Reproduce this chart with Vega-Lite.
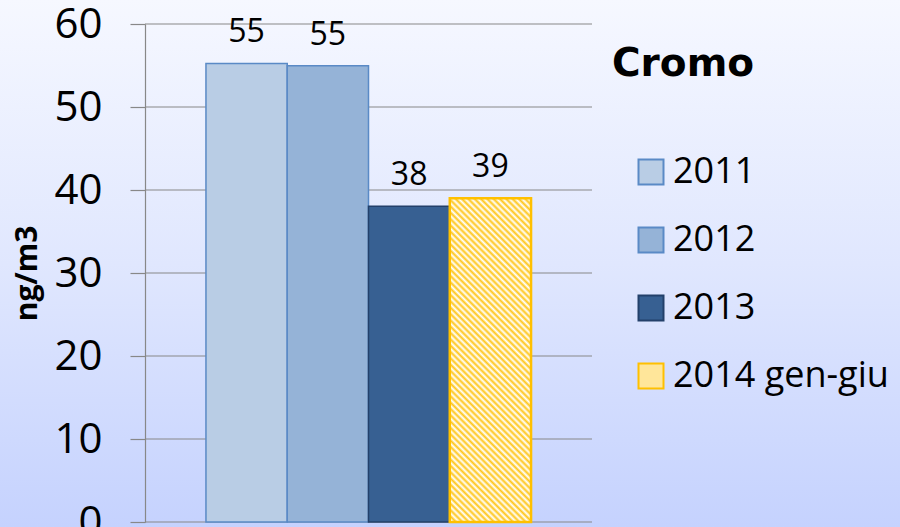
{
  "$schema": "https://vega.github.io/schema/vega-lite/v6.json",
  "width": 447,
  "height": 498,
  "autosize": "none",
  "padding": {"left": 145, "top": 24, "right": 308, "bottom": 5},
  "background": "#DDE5FD",
  "config": {"view": {"stroke": null}, "font": "Open Sans"},
  "resolve": {"scale": {"x": "independent"}},
  "layer": [
    {
      "data": {"values": [{"part": "background"}]},
      "mark": {
        "type": "rect",
        "clip": false,
        "strokeWidth": 0,
        "fill": {
          "gradient": "linear", "x1": 0, "y1": 0, "x2": 0, "y2": 1,
          "stops": [
            {"offset": 0, "color": "#F6F8FF"},
            {"offset": 0.5, "color": "#E0E7FE"},
            {"offset": 1, "color": "#C5D2FE"}
          ]
        }
      },
      "encoding": {
        "x": {"datum": -0.33, "type": "quantitative", "scale": {"domain": [0, 1], "nice": false, "zero": false}, "axis": null},
        "x2": {"datum": 1.7},
        "y": {
          "datum": 63, "type": "quantitative",
          "scale": {"domain": [0, 60], "nice": false},
          "axis": {
            "values": [0, 10, 20, 30, 40, 50, 60],
            "grid": false,
            "zindex": 1,
            "title": "ng/m3",
            "domainColor": "#888888", "domainWidth": 1.2,
            "tickColor": "#888888", "tickWidth": 1.2, "tickSize": 15,
            "labelFontSize": 42, "labelFont": "Open Sans", "labelColor": "#000000",
            "labelPadding": 28, "labelFlush": false, "labelOverlap": false,
            "titleFontSize": 30, "titleFont": "Open Sans", "titleFontWeight": "bold",
            "titleColor": "#000000", "titlePadding": 11
          }
        },
        "y2": {"datum": -0.65}
      }
    },
    {
      "data": {"values": [{"t": 0}, {"t": 10}, {"t": 20}, {"t": 30}, {"t": 40}, {"t": 50}, {"t": 60}]},
      "mark": {"type": "rule", "color": "#888888", "strokeWidth": 1.2},
      "encoding": {
        "y": {"field": "t", "type": "quantitative", "scale": {"domain": [0, 60], "nice": false}}
      }
    },
    {
      "data": {"values": [
        {"year": "2011", "value": 55.25},
        {"year": "2012", "value": 54.97},
        {"year": "2013", "value": 38.05},
        {"year": "2014 gen-giu", "value": 39.0}
      ]},
      "layer": [
        {
          "mark": {"type": "bar"},
          "encoding": {
            "x": {"field": "year", "type": "nominal", "sort": null, "scale": {"paddingInner": 0, "paddingOuter": 0.75}, "axis": null},
            "y": {"field": "value", "type": "quantitative", "scale": {"domain": [0, 60], "nice": false}},
            "strokeWidth": {"condition": {"test": "datum.year === '2014 gen-giu'", "value": 2.5}, "value": 1.5},
            "color": {
              "field": "year", "type": "nominal",
              "scale": {"domain": ["2011", "2012", "2013", "2014 gen-giu"], "range": ["#B9CDE5", "#95B3D7", "#376092", "#FFE69A"]},
              "condition": {
                "test": "datum.year === '2014 gen-giu'",
                "value": {
                  "gradient": "linear", "x1": 0, "y1": 1, "x2": 0.2955, "y2": -0.1768,
                  "stops": [
                    {"offset": 0, "color": "#FFC61A"}, {"offset": 0.0078125, "color": "#FFFFFF"},
                    {"offset": 0.015625, "color": "#FFC61A"}, {"offset": 0.0234375, "color": "#FFFFFF"},
                    {"offset": 0.03125, "color": "#FFC61A"}, {"offset": 0.0390625, "color": "#FFFFFF"},
                    {"offset": 0.046875, "color": "#FFC61A"}, {"offset": 0.0546875, "color": "#FFFFFF"},
                    {"offset": 0.0625, "color": "#FFC61A"}, {"offset": 0.0703125, "color": "#FFFFFF"},
                    {"offset": 0.078125, "color": "#FFC61A"}, {"offset": 0.0859375, "color": "#FFFFFF"},
                    {"offset": 0.09375, "color": "#FFC61A"}, {"offset": 0.1015625, "color": "#FFFFFF"},
                    {"offset": 0.109375, "color": "#FFC61A"}, {"offset": 0.1171875, "color": "#FFFFFF"},
                    {"offset": 0.125, "color": "#FFC61A"}, {"offset": 0.1328125, "color": "#FFFFFF"},
                    {"offset": 0.140625, "color": "#FFC61A"}, {"offset": 0.1484375, "color": "#FFFFFF"},
                    {"offset": 0.15625, "color": "#FFC61A"}, {"offset": 0.1640625, "color": "#FFFFFF"},
                    {"offset": 0.171875, "color": "#FFC61A"}, {"offset": 0.1796875, "color": "#FFFFFF"},
                    {"offset": 0.1875, "color": "#FFC61A"}, {"offset": 0.1953125, "color": "#FFFFFF"},
                    {"offset": 0.203125, "color": "#FFC61A"}, {"offset": 0.2109375, "color": "#FFFFFF"},
                    {"offset": 0.21875, "color": "#FFC61A"}, {"offset": 0.2265625, "color": "#FFFFFF"},
                    {"offset": 0.234375, "color": "#FFC61A"}, {"offset": 0.2421875, "color": "#FFFFFF"},
                    {"offset": 0.25, "color": "#FFC61A"}, {"offset": 0.2578125, "color": "#FFFFFF"},
                    {"offset": 0.265625, "color": "#FFC61A"}, {"offset": 0.2734375, "color": "#FFFFFF"},
                    {"offset": 0.28125, "color": "#FFC61A"}, {"offset": 0.2890625, "color": "#FFFFFF"},
                    {"offset": 0.296875, "color": "#FFC61A"}, {"offset": 0.3046875, "color": "#FFFFFF"},
                    {"offset": 0.3125, "color": "#FFC61A"}, {"offset": 0.3203125, "color": "#FFFFFF"},
                    {"offset": 0.328125, "color": "#FFC61A"}, {"offset": 0.3359375, "color": "#FFFFFF"},
                    {"offset": 0.34375, "color": "#FFC61A"}, {"offset": 0.3515625, "color": "#FFFFFF"},
                    {"offset": 0.359375, "color": "#FFC61A"}, {"offset": 0.3671875, "color": "#FFFFFF"},
                    {"offset": 0.375, "color": "#FFC61A"}, {"offset": 0.3828125, "color": "#FFFFFF"},
                    {"offset": 0.390625, "color": "#FFC61A"}, {"offset": 0.3984375, "color": "#FFFFFF"},
                    {"offset": 0.40625, "color": "#FFC61A"}, {"offset": 0.4140625, "color": "#FFFFFF"},
                    {"offset": 0.421875, "color": "#FFC61A"}, {"offset": 0.4296875, "color": "#FFFFFF"},
                    {"offset": 0.4375, "color": "#FFC61A"}, {"offset": 0.4453125, "color": "#FFFFFF"},
                    {"offset": 0.453125, "color": "#FFC61A"}, {"offset": 0.4609375, "color": "#FFFFFF"},
                    {"offset": 0.46875, "color": "#FFC61A"}, {"offset": 0.4765625, "color": "#FFFFFF"},
                    {"offset": 0.484375, "color": "#FFC61A"}, {"offset": 0.4921875, "color": "#FFFFFF"},
                    {"offset": 0.5, "color": "#FFC61A"}, {"offset": 0.5078125, "color": "#FFFFFF"},
                    {"offset": 0.515625, "color": "#FFC61A"}, {"offset": 0.5234375, "color": "#FFFFFF"},
                    {"offset": 0.53125, "color": "#FFC61A"}, {"offset": 0.5390625, "color": "#FFFFFF"},
                    {"offset": 0.546875, "color": "#FFC61A"}, {"offset": 0.5546875, "color": "#FFFFFF"},
                    {"offset": 0.5625, "color": "#FFC61A"}, {"offset": 0.5703125, "color": "#FFFFFF"},
                    {"offset": 0.578125, "color": "#FFC61A"}, {"offset": 0.5859375, "color": "#FFFFFF"},
                    {"offset": 0.59375, "color": "#FFC61A"}, {"offset": 0.6015625, "color": "#FFFFFF"},
                    {"offset": 0.609375, "color": "#FFC61A"}, {"offset": 0.6171875, "color": "#FFFFFF"},
                    {"offset": 0.625, "color": "#FFC61A"}, {"offset": 0.6328125, "color": "#FFFFFF"},
                    {"offset": 0.640625, "color": "#FFC61A"}, {"offset": 0.6484375, "color": "#FFFFFF"},
                    {"offset": 0.65625, "color": "#FFC61A"}, {"offset": 0.6640625, "color": "#FFFFFF"},
                    {"offset": 0.671875, "color": "#FFC61A"}, {"offset": 0.6796875, "color": "#FFFFFF"},
                    {"offset": 0.6875, "color": "#FFC61A"}, {"offset": 0.6953125, "color": "#FFFFFF"},
                    {"offset": 0.703125, "color": "#FFC61A"}, {"offset": 0.7109375, "color": "#FFFFFF"},
                    {"offset": 0.71875, "color": "#FFC61A"}, {"offset": 0.7265625, "color": "#FFFFFF"},
                    {"offset": 0.734375, "color": "#FFC61A"}, {"offset": 0.7421875, "color": "#FFFFFF"},
                    {"offset": 0.75, "color": "#FFC61A"}, {"offset": 0.7578125, "color": "#FFFFFF"},
                    {"offset": 0.765625, "color": "#FFC61A"}, {"offset": 0.7734375, "color": "#FFFFFF"},
                    {"offset": 0.78125, "color": "#FFC61A"}, {"offset": 0.7890625, "color": "#FFFFFF"},
                    {"offset": 0.796875, "color": "#FFC61A"}, {"offset": 0.8046875, "color": "#FFFFFF"},
                    {"offset": 0.8125, "color": "#FFC61A"}, {"offset": 0.8203125, "color": "#FFFFFF"},
                    {"offset": 0.828125, "color": "#FFC61A"}, {"offset": 0.8359375, "color": "#FFFFFF"},
                    {"offset": 0.84375, "color": "#FFC61A"}, {"offset": 0.8515625, "color": "#FFFFFF"},
                    {"offset": 0.859375, "color": "#FFC61A"}, {"offset": 0.8671875, "color": "#FFFFFF"},
                    {"offset": 0.875, "color": "#FFC61A"}, {"offset": 0.8828125, "color": "#FFFFFF"},
                    {"offset": 0.890625, "color": "#FFC61A"}, {"offset": 0.8984375, "color": "#FFFFFF"},
                    {"offset": 0.90625, "color": "#FFC61A"}, {"offset": 0.9140625, "color": "#FFFFFF"},
                    {"offset": 0.921875, "color": "#FFC61A"}, {"offset": 0.9296875, "color": "#FFFFFF"},
                    {"offset": 0.9375, "color": "#FFC61A"}, {"offset": 0.9453125, "color": "#FFFFFF"},
                    {"offset": 0.953125, "color": "#FFC61A"}, {"offset": 0.9609375, "color": "#FFFFFF"},
                    {"offset": 0.96875, "color": "#FFC61A"}, {"offset": 0.9765625, "color": "#FFFFFF"},
                    {"offset": 0.984375, "color": "#FFC61A"}, {"offset": 0.9921875, "color": "#FFFFFF"},
                    {"offset": 1, "color": "#FFC61A"}
                  ]
                }
              },
              "legend": {
                "title": "Cromo",
                "orient": "none",
                "legendX": 467,
                "legendY": 21,
                "padding": 0,
                "titleFont": "DejaVu Sans", "titleFontSize": 39, "titleFontWeight": "bold", "titleColor": "#000000",
                "titlePadding": 70,
                "labelFont": "Open Sans", "labelFontSize": 36, "labelColor": "#000000", "labelLimit": 400,
                "labelOffset": 4,
                "symbolType": "square", "symbolSize": 625, "symbolStrokeWidth": 2, "symbolOffset": 21,
                "symbolOpacity": 1,
                "rowPadding": 32
              }
            },
            "stroke": {
              "field": "year", "type": "nominal",
              "scale": {"domain": ["2011", "2012", "2013", "2014 gen-giu"], "range": ["#5A8AC6", "#5A8AC6", "#23406A", "#FFC000"]},
              "legend": null
            }
          }
        },
        {
          "mark": {"type": "text", "dy": -21, "baseline": "alphabetic", "fontSize": 32, "font": "Open Sans", "color": "#000000"},
          "encoding": {
            "x": {"field": "year", "type": "nominal", "sort": null, "scale": {"paddingInner": 0, "paddingOuter": 0.75}, "axis": null},
            "y": {"field": "value", "type": "quantitative", "scale": {"domain": [0, 60], "nice": false}},
            "text": {"field": "value", "type": "quantitative", "format": ".0f"}
          }
        }
      ]
    }
  ]
}
